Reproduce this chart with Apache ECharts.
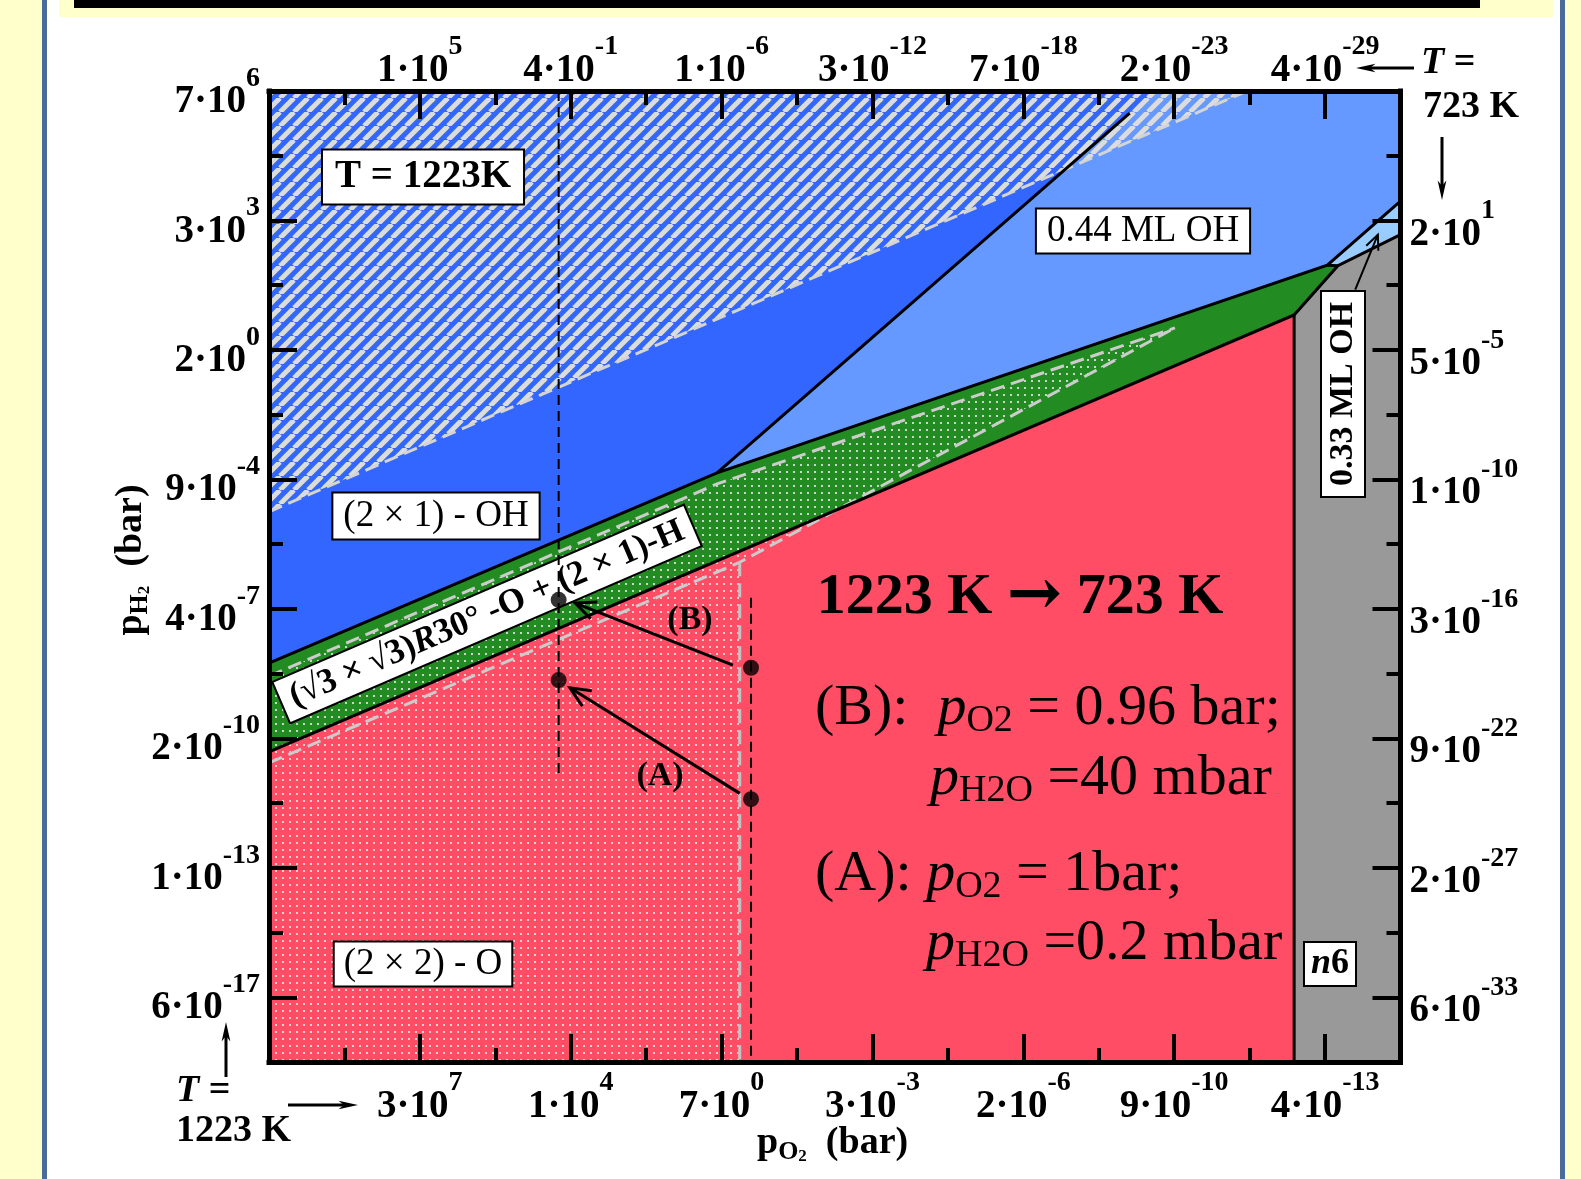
<!DOCTYPE html>
<html><head><meta charset="utf-8">
<script src="https://cdn.jsdelivr.net/npm/echarts@6/dist/echarts.min.js"></script>
<style>html,body{margin:0;padding:0;background:#fff;overflow:hidden}#c{width:1581px;height:1179px}</style>
</head><body><div id="c"></div>
<script>
const FONT = '"Liberation Serif","Times New Roman",Times,serif';

// ---------- tick labels (value^exponent) ----------
const bottomTickLabels = ['', '3·10^7', '1·10^4', '7·10^0', '3·10^-3', '2·10^-6', '9·10^-10', '4·10^-13'];
const topTickLabels    = ['', '1·10^5', '4·10^-1', '1·10^-6', '3·10^-12', '7·10^-18', '2·10^-23', '4·10^-29'];
const leftTickLabels   = ['7·10^6', '3·10^3', '2·10^0', '9·10^-4', '4·10^-7', '2·10^-10', '1·10^-13', '6·10^-17'];
const rightTickLabels  = ['', '2·10^1', '5·10^-5', '1·10^-10', '3·10^-16', '9·10^-22', '2·10^-27', '6·10^-33'];

// ---------- phase regions at 723 K : [x tick-units, y tick-units from top] ----------
const region2x1OH = [[0,0],[11.75,0],[5.94,5.90],[0,8.84]];
const region044OH = [[11.75,0],[15,0],[15,1.70],[14.03,2.69],[5.94,5.90]];
const region033OH = [[14.03,2.69],[15,1.70],[15,2.22],[14.17,2.70]];
const regionSqrt3 = [[0,8.84],[5.94,5.90],[14.03,2.69],[14.17,2.70],[13.59,3.46],[0,10.21]];
const region2x2O  = [[0,10.21],[13.59,3.46],[13.59,15],[0,15]];
const regionN6    = [[14.17,2.70],[15,2.22],[15,15],[13.59,15],[13.59,3.46]];

// ---------- 1223 K regions (overlays) ----------
const hatch1223   = [[0,0],[12.97,0],[0,6.50]];
const stipple1223 = [[0,9.04],[5.94,6.07],[12.01,3.66],[6.24,7.28],[6.24,15],[0,15]];

// ---------- boundaries ----------
const bndUpper   = [[0,8.84],[5.94,5.90],[14.03,2.69],[15,1.70]];
const bndSteep   = [[5.94,5.90],[11.41,0.34]];
const bndLower   = [[0,10.21],[13.59,3.46],[14.17,2.70],[15,2.22]];
const bndN6      = [[13.59,3.46],[13.59,15]];
const bndTip     = [[14.03,2.69],[14.17,2.70]];
const dash1223Hatch = [[0,6.50],[12.97,0]];
const dash1223Up    = [[0,9.04],[5.94,6.07],[12.01,3.66]];
const dash1223Low   = [[0,10.38],[6.24,7.28],[12.01,3.66]];
const dash1223Vert  = [[6.24,7.28],[6.24,15]];
const guideLeft  = [[3.84,0],[3.84,10.54]];
const guideRight = [[6.39,7.83],[6.39,15]];

// ---------- points and arrows ----------
const pointsAB = [[3.84,7.86],[3.84,9.10],[6.39,8.91],[6.39,10.94]];
const arrowsAB = [[6.15,8.87,4.06,7.91],[6.24,10.85,3.99,9.22]];
const arrow033 = [[14.40,3.07,14.70,2.22]];

// ---------- patterns ----------
function makeHatch(){
  const s=14, c=document.createElement('canvas'); c.width=s; c.height=s;
  const g=c.getContext('2d'); g.strokeStyle='#dcdcdc'; g.lineWidth=5;
  for(let k=-1;k<=1;k++){ g.beginPath(); g.moveTo(k*s,s); g.lineTo(k*s+s,0); g.stroke(); }
  return c;
}
function makeDots(){
  const s=7, c=document.createElement('canvas'); c.width=s; c.height=s;
  const g=c.getContext('2d'); g.fillStyle='rgba(222,222,222,0.9)'; g.fillRect(2,2,2,2);
  return c;
}
const hatchFill = {image: makeHatch(), repeat:'repeat'};
const dotFill = {image: makeDots(), repeat:'repeat'};

function polySeries(verts, fill, z){
  return {type:'custom', coordinateSystem:'cartesian2d', z, silent:true, data: verts,
    renderItem(params, api){
      if(params.dataIndex!==0) return null;
      return {type:'polygon', shape:{points: verts.map(p=>api.coord(p))}, style:{fill, stroke:null}};
    }};
}
function lineSeries(pts, color, width, type, z){
  return {type:'line', data: pts, symbol:'none', silent:true, z, clip:false,
    lineStyle:{color, width, type, cap:'butt', join:'miter'}};
}
function arrowSeries(rows, lw, L, z){
  return {type:'custom', coordinateSystem:'cartesian2d', z, silent:true, data: rows,
    renderItem(params, api){
      const a=api.coord([api.value(0),api.value(1)]), b=api.coord([api.value(2),api.value(3)]);
      const ang=Math.atan2(b[1]-a[1], b[0]-a[0]), w=0.42;
      const p1=[b[0]-L*Math.cos(ang-w), b[1]-L*Math.sin(ang-w)];
      const p2=[b[0]-L*Math.cos(ang+w), b[1]-L*Math.sin(ang+w)];
      return {type:'group', children:[
        {type:'line', shape:{x1:a[0],y1:a[1],x2:b[0],y2:b[1]}, style:{stroke:'#000', lineWidth:lw}},
        {type:'polyline', shape:{points:[p1,b,p2]}, style:{stroke:'#000', lineWidth:lw, fill:null}}
      ]};
    }};
}

function supFormatter(arr){
  return function(v){
    const i=Math.round(v);
    if(Math.abs(v-i)>1e-6 || i%2!==0) return '';
    const s=arr[i/2]; if(!s) return '';
    const parts=s.split('^');
    return '{b|'+parts[0]+'}{s|'+parts[1]+'}';
  };
}
const tickRich = {
  b:{fontFamily:FONT, fontWeight:'bold', fontSize:39, lineHeight:57, verticalAlign:'bottom', color:'#000'},
  s:{fontFamily:FONT, fontWeight:'bold', fontSize:28, lineHeight:10, verticalAlign:'top', color:'#000'}
};
function axis(kind, pos, major, labels, labelOpt){
  const o = {type:'value', position:pos, min:0, max:15, interval: major?2:1, z:10,
    axisLine:{show:major, onZero:false, lineStyle:{color:'#000', width:5, cap:'square'}},
    axisTick:{show:true, inside:true, length: major?28:14, lineStyle:{color:'#000', width:4}},
    splitLine:{show:false},
    axisLabel: major ? Object.assign({show:true, formatter: supFormatter(labels), rich: tickRich}, labelOpt) : {show:false}
  };
  if(kind==='y') o.inverse = true;
  return o;
}

const annRich = {
  r:{fontFamily:FONT, fontSize:58, lineHeight:62, color:'#000'},
  i:{fontFamily:FONT, fontSize:58, fontStyle:'italic', lineHeight:62, color:'#000'},
  sub:{fontFamily:FONT, fontSize:38, lineHeight:16, verticalAlign:'bottom', color:'#000'}
};
const titleRich = {
  b:{fontFamily:FONT, fontWeight:'bold', fontSize:38, lineHeight:44, color:'#000'},
  h:{fontFamily:FONT, fontWeight:'bold', fontSize:26, lineHeight:12, verticalAlign:'bottom', color:'#000'},
  t:{fontFamily:FONT, fontWeight:'bold', fontSize:17, lineHeight:2, verticalAlign:'bottom', color:'#000'},
  it:{fontFamily:FONT, fontWeight:'bold', fontStyle:'italic', fontSize:38, lineHeight:44, color:'#000'}
};
function boxText(x, y, text, size, weight, pad, rot, rich, z){
  return {type:'text', x, y, rotation: rot||0, z: z||50, silent:true,
    style:{text, fontFamily:FONT, fontSize:size, fontWeight:weight, fill:'#000', lineHeight:size+2,
      backgroundColor:'#fff', borderColor:'#000', borderWidth:2, padding:pad,
      align:'center', verticalAlign:'middle', rich}};
}
function plainText(x, y, text, align, rich, rot){
  return {type:'text', x, y, rotation: rot||0, z:50, silent:true,
    style:{text, align, verticalAlign:'middle', rich, fill:'#000'}};
}
function arrowGfx(x1,y1,x2,y2){
  const ang=Math.atan2(y2-y1,x2-x1), L=20, w=0.22;
  return [
    {type:'line', z:50, silent:true, shape:{x1,y1,x2:x2-12*Math.cos(ang),y2:y2-12*Math.sin(ang)}, style:{stroke:'#000', lineWidth:3}},
    {type:'polygon', z:50, silent:true, shape:{points:[[x2,y2],[x2-L*Math.cos(ang-w),y2-L*Math.sin(ang-w)],[x2-L*0.7*Math.cos(ang),y2-L*0.7*Math.sin(ang)],[x2-L*Math.cos(ang+w),y2-L*Math.sin(ang+w)]]}, style:{fill:'#000'}}
  ];
}

const chart = echarts.init(document.getElementById('c'), null, {renderer:'canvas'});
chart.setOption({
  animation:false,
  backgroundColor:'#ffffff',
  grid:{left:269, top:91, width:1131.5, height:971, show:false, containLabel:false, outerBoundsMode:'none'},
  xAxis:[
    axis('x','bottom',true,bottomTickLabels,{margin:7}),
    axis('x','bottom',false),
    axis('x','top',true,topTickLabels,{margin:1}),
    axis('x','top',false)
  ],
  yAxis:[
    axis('y','left',true,leftTickLabels,{margin:9, padding:[4,0,0,0]}),
    axis('y','left',false),
    axis('y','right',true,rightTickLabels,{margin:9, padding:[10,0,0,0]}),
    axis('y','right',false)
  ],
  series:[
    polySeries(region2x1OH,'#3366ff',1),
    polySeries(region044OH,'#6699ff',1),
    polySeries(region033OH,'#99ccff',1),
    polySeries(regionSqrt3,'#228b22',1),
    polySeries(region2x2O,'#ff4d66',1),
    polySeries(regionN6,'#999999',1),
    polySeries(stipple1223, dotFill, 2),
    polySeries(hatch1223, hatchFill, 3),
    lineSeries(dash1223Hatch,'#d4d4d4',3,[14,7],4),
    lineSeries(dash1223Up,'#cccccc',3,[14,7],4),
    lineSeries(dash1223Low,'#cccccc',3,[14,7],4),
    lineSeries(dash1223Vert,'#c4c4c4',3,[14,7],4),
    lineSeries(bndUpper,'#000',3,'solid',5),
    lineSeries(bndSteep,'#000',3,'solid',5),
    lineSeries(bndLower,'#000',3,'solid',5),
    lineSeries(bndN6,'#000',3,'solid',5),
    lineSeries(bndTip,'#000',3,'solid',5),
    lineSeries(guideLeft,'#000',2,[10,6],6),
    lineSeries(guideRight,'#000',2,[10,6],6),
    arrowSeries(arrowsAB,3,22,6),
    arrowSeries(arrow033,2,16,6),
    {type:'scatter', data:pointsAB, symbol:'circle', symbolSize:16, itemStyle:{color:'#000'}, z:7, silent:true}
  ],
  graphic:[
    // page decoration
    {type:'rect', z:0, silent:true, shape:{x:0,y:0,width:42,height:1179}, style:{fill:'#ffffcc'}},
    {type:'rect', z:0, silent:true, shape:{x:42,y:0,width:5,height:1179}, style:{fill:'#4a6a9c'}},
    {type:'rect', z:0, silent:true, shape:{x:1565,y:0,width:16,height:1179}, style:{fill:'#ffffcc'}},
    {type:'rect', z:0, silent:true, shape:{x:1560,y:0,width:5,height:1179}, style:{fill:'#4a6a9c'}},
    {type:'rect', z:0, silent:true, shape:{x:59,y:0,width:1494,height:17}, style:{fill:'#ffffcc'}},
    {type:'rect', z:0, silent:true, shape:{x:74,y:0,width:1406,height:8}, style:{fill:'#000'}},
    // region labels
    boxText(423,177,'T = 1223K',39,'bold',[6,12]),
    boxText(1143,231,'0.44 ML OH',37,'normal',[2,10]),
    boxText(436,516,'(2 × 1) - OH',37,'normal',[3,10]),
    boxText(423,964,'(2 × 2) - O',37,'normal',[2,9]),
    boxText(1343,394,'0.33 ML OH',34,'bold',[3,10],Math.PI/2),
    boxText(1330,964,'{ni|n}{nb|6}',36,'bold',[2,6],0,{
      ni:{fontFamily:FONT,fontSize:36,fontWeight:'bold',fontStyle:'italic'},
      nb:{fontFamily:FONT,fontSize:36,fontWeight:'bold'}}),
    boxText(487,614,'{a|(√3 × √3)}{ai|R}{a|30° -O + (2 × 1)-H}',35,'bold',[3,10],0.407,{
      a:{fontFamily:FONT,fontSize:35,fontWeight:'bold',lineHeight:37},
      ai:{fontFamily:FONT,fontSize:35,fontWeight:'bold',fontStyle:'italic',lineHeight:37}}, 5.5),
    plainText(690,620,'{b|(B)}','center',{b:{fontFamily:FONT,fontWeight:'bold',fontSize:34}}),
    plainText(660,776,'{b|(A)}','center',{b:{fontFamily:FONT,fontWeight:'bold',fontSize:34}}),
    // annotation block
    plainText(1020,598,'{b|1223 K }{a|→}{b| 723 K}','center',{
      b:{fontFamily:FONT,fontWeight:'bold',fontSize:58,lineHeight:64},
      a:{fontFamily:'"DejaVu Serif",serif',fontWeight:'bold',fontSize:66,lineHeight:64}}),
    plainText(815,709,'{r|(B):  }{i|p}{sub|O2}{r| = 0.96 bar;}','left',annRich),
    plainText(930,779,'{i|p}{sub|H2O}{r| =40 mbar}','left',annRich),
    plainText(815,875,'{r|(A): }{i|p}{sub|O2}{r| = 1bar;}','left',annRich),
    plainText(926,944,'{i|p}{sub|H2O}{r| =0.2 mbar}','left',annRich),
    // axis titles
    plainText(131,560,'{b|p}{h|H}{t|2}{b|  (bar)}','center',titleRich,Math.PI/2),
    plainText(757,1143,'{b|p}{h|O}{t|2}{b|  (bar)}','left',titleRich),
    // temperature notes
    plainText(176,1091,'{it|T}{b| =}','left',titleRich),
    plainText(176,1131,'{b|1223 K}','left',titleRich),
    ...arrowGfx(226,1077,226,1022),
    ...arrowGfx(288,1105,358,1105),
    plainText(1421,63,'{it|T}{b| =}','left',titleRich),
    plainText(1423,107,'{b|723 K}','left',titleRich),
    ...arrowGfx(1414,68,1356,68),
    ...arrowGfx(1442,137,1442,200)
  ]
});
</script>
</body></html>
